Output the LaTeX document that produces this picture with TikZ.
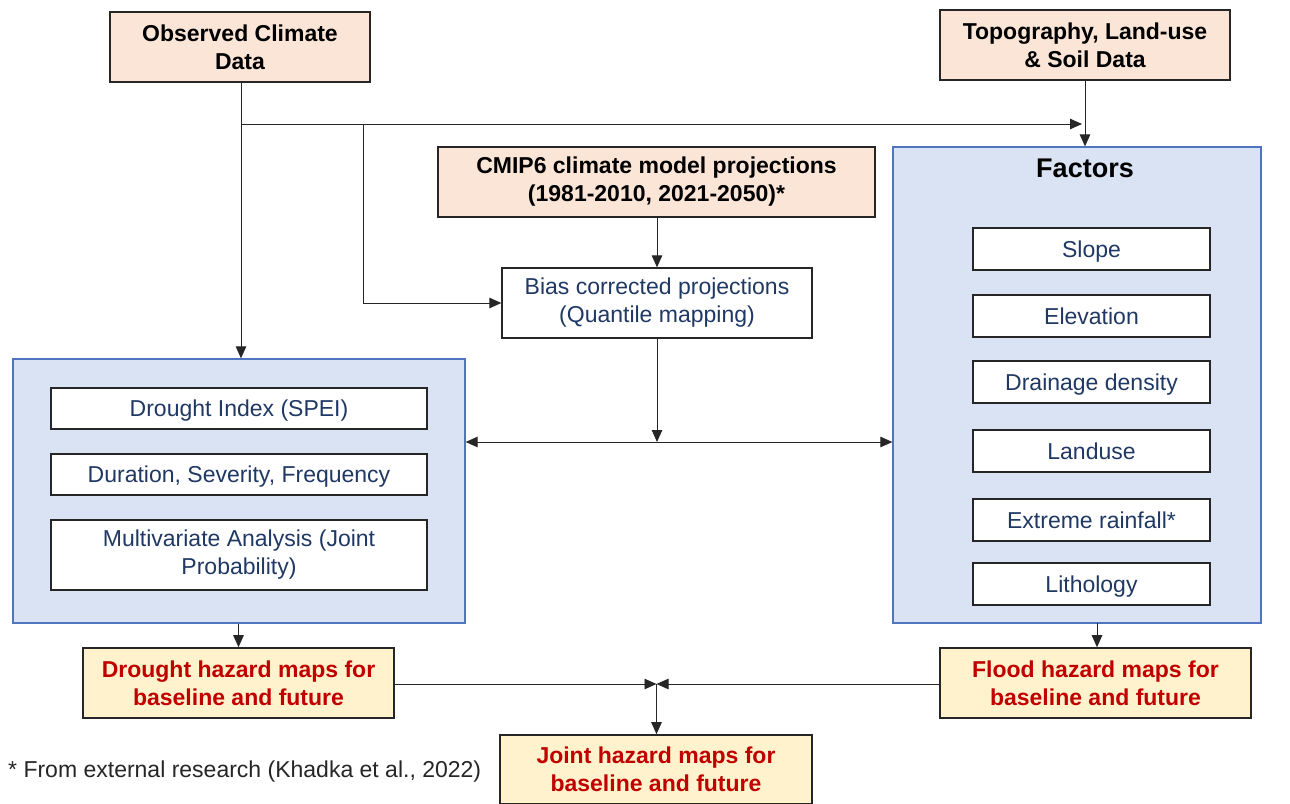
\documentclass[tikz,border=0pt]{standalone}
\usepackage{fontspec}
\setmainfont{Liberation Sans}
\usetikzlibrary{arrows.meta}
\definecolor{peach}{HTML}{FBE5D6}
\definecolor{lyellow}{HTML}{FFF2CC}
\definecolor{lblue}{HTML}{DAE3F3}
\definecolor{bblue}{HTML}{4F74C0}
\definecolor{navy}{HTML}{203864}
\definecolor{dred}{HTML}{C00000}
\tikzset{
  inbox/.style={draw=black!85, line width=1.6pt, fill=peach, align=center, inner sep=0pt,
    font=\fontsize{23}{28}\selectfont\bfseries, text=black},
  hazbox/.style={draw=black!85, line width=1.6pt, fill=lyellow, align=center, inner sep=0pt,
    font=\fontsize{23}{28}\selectfont\bfseries, text=dred},
  procbox/.style={draw=black!85, line width=1.3pt, fill=white, align=center, inner sep=0pt,
    font=\fontsize{23}{28}\selectfont, text=navy},
  oneline/.style={procbox, text height=21.5pt, text depth=5pt},
  group/.style={draw=bblue, line width=1.3pt, fill=lblue, inner sep=0pt},
  conn/.style={draw=black!85, line width=0.9pt},
  arr/.style={conn, -{Triangle[length=12pt,width=10.5pt]}},
  darr/.style={conn, {Triangle[length=12pt,width=10.5pt]}-{Triangle[length=12pt,width=10.5pt]}}
}
\begin{document}
\begin{tikzpicture}[x=1pt,y=-1pt]
\useasboundingbox[fill=white] (0,0) rectangle (1290,803);
% groups
\node[group, minimum width=452, minimum height=264] (left) at (239,491) {};
\node[group, minimum width=368, minimum height=476] (fac) at (1077,385) {};
\node[font=\fontsize{27}{30}\selectfont\bfseries] (factitle) at (1085,168) {Factors};
% input boxes
\node[inbox, minimum width=260, minimum height=70] (obs) at (240,47) {Observed Climate\\Data};
\node[inbox, minimum width=290, minimum height=70] (topo) at (1085,45) {Topography, Land-use\\\& Soil Data};
\node[inbox, minimum width=437, minimum height=70] (cmip) at (656.5,182) {CMIP6 climate model projections\\(1981-2010, 2021-2050)*};
\node[procbox, minimum width=310, minimum height=70] (bias) at (657,303) {Bias corrected projections\\(Quantile mapping)};
% drought steps
\node[oneline, minimum width=376, minimum height=41] (spei) at (239,408.5) {Drought Index (SPEI)};
\node[oneline, minimum width=376, minimum height=41] (dsf) at (239,474.5) {Duration, Severity, Frequency};
\node[procbox, minimum width=376, minimum height=70] (mva) at (239,555) {Multivariate Analysis (Joint\\Probability)};
% factors
\node[oneline, minimum width=237, minimum height=42] (slope) at (1091.5,249) {Slope};
\node[oneline, minimum width=237, minimum height=42] (elev) at (1091.5,316) {Elevation};
\node[oneline, minimum width=237, minimum height=42] (drain) at (1091.5,382) {Drainage density};
\node[oneline, minimum width=237, minimum height=42] (landuse) at (1091.5,451) {Landuse};
\node[oneline, minimum width=237, minimum height=42] (rain) at (1091.5,520) {Extreme rainfall*};
\node[oneline, minimum width=237, minimum height=42] (litho) at (1091.5,584) {Lithology};
% hazard maps
\node[hazbox, minimum width=311, minimum height=70] (dh) at (238.5,683) {Drought hazard maps for\\baseline and future};
\node[hazbox, minimum width=311, minimum height=70] (fh) at (1095.5,683) {Flood hazard maps for\\baseline and future};
\node[hazbox, minimum width=312, minimum height=69] (jh) at (656,769.5) {Joint hazard maps for\\baseline and future};
\node[anchor=west, inner sep=0pt, font=\fontsize{23}{27}\selectfont, text=black!85] (note) at (8,772) {* From external research (Khadka et al., 2022)};
% connectors
\coordinate (j1) at (241,124);
\coordinate (j2) at (363,124);
\coordinate (m) at (657,442);
\coordinate (jm) at (656.5,684);
\coordinate (fb) at (1097,623);
\draw[arr] (obs.south -| j1) -- (j1 |- left.north);
\draw[arr] (j1) -- ([xshift=-3pt]topo.south |- j1);
\draw[arr] (topo.south) -- (topo.south |- fac.north);
\draw[arr] (j2) |- (bias.west);
\draw[arr] (cmip.south -| bias.north) -- (bias.north);
\draw[arr] (bias.south) -- (m);
\draw[darr] (left.east |- m) -- (fac.west |- m);
\draw[arr] (left.south -| dh.north) -- (dh.north);
\draw[arr] (fb) -- (fb |- fh.north);
\draw[arr] (dh.east |- jm) -- (jm);
\draw[arr] (fh.west |- jm) -- (jm);
\draw[arr] (jm) -- (jm |- jh.north);
\end{tikzpicture}
\end{document}
